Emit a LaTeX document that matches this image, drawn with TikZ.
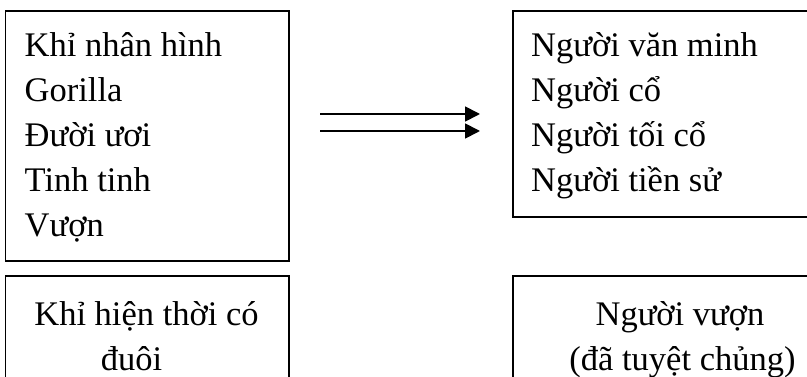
\documentclass[tikz,border=0pt]{standalone}
\usepackage{fontspec}
\setmainfont{Liberation Serif}
\usetikzlibrary{arrows.meta}
\tikzset{
  boxst/.style={draw=black, line width=1.8pt, rectangle, inner sep=0pt, anchor=north west},
  txt/.style={inner sep=0pt, font=\fontsize{34.5}{45}\selectfont, anchor=base west},
  ctxt/.style={inner sep=0pt, font=\fontsize{34.5}{45}\selectfont, anchor=base},
  arr/.style={line width=1.8pt, -{Triangle[length=15pt,width=15pt]}}
}
\begin{document}
\begin{tikzpicture}[x=1pt,y=-1pt]
\useasboundingbox (0,0) rectangle (807,377);
\clip (0,0) rectangle (807,377);
\fill[white] (0,0) rectangle (807,377);
% boxes
\node[boxst, minimum width=283.5pt, minimum height=250pt] (b1) at (4.5,10) {};
\node[boxst, minimum width=360pt, minimum height=206pt] (b2) at (512,10) {};
\node[boxst, minimum width=283.5pt, minimum height=160pt] (b3) at (4.5,275) {};
\node[boxst, minimum width=360pt, minimum height=160pt] (b4) at (512,275) {};
% texts top-left
\node[txt] (t1) at (24.5,57) {Khỉ nhân hình};
\node[txt] (t2) at (24.5,102) {Gorilla};
\node[txt] (t3) at (24.5,147) {Đười ươi};
\node[txt] (t4) at (24.5,192) {Tinh tinh};
\node[txt] (t5) at (24.5,237) {Vượn};
% texts top-right
\node[txt] (r1) at (531,57) {Người văn minh};
\node[txt] (r2) at (531,102) {Người cổ};
\node[txt] (r3) at (531,147) {Người tối cổ};
\node[txt] (r4) at (531,192) {Người tiền sử};
% bottom texts
\node[ctxt] (l1) at (146.5,325) {Khỉ hiện thời có};
\node[ctxt] (l2) at (131.5,370) {đuôi};
\node[ctxt] (m1) at (680,325) {Người vượn};
\node[ctxt] (m2) at (682.5,370) {(đã tuyệt chủng)};
% arrows
\coordinate (a1s) at (320,114);
\coordinate (a1e) at (480,114);
\coordinate (a2s) at (320,131);
\coordinate (a2e) at (480,131);
\draw[arr] (a1s) -- (a1e);
\draw[arr] (a2s) -- (a2e);
\end{tikzpicture}
\end{document}
